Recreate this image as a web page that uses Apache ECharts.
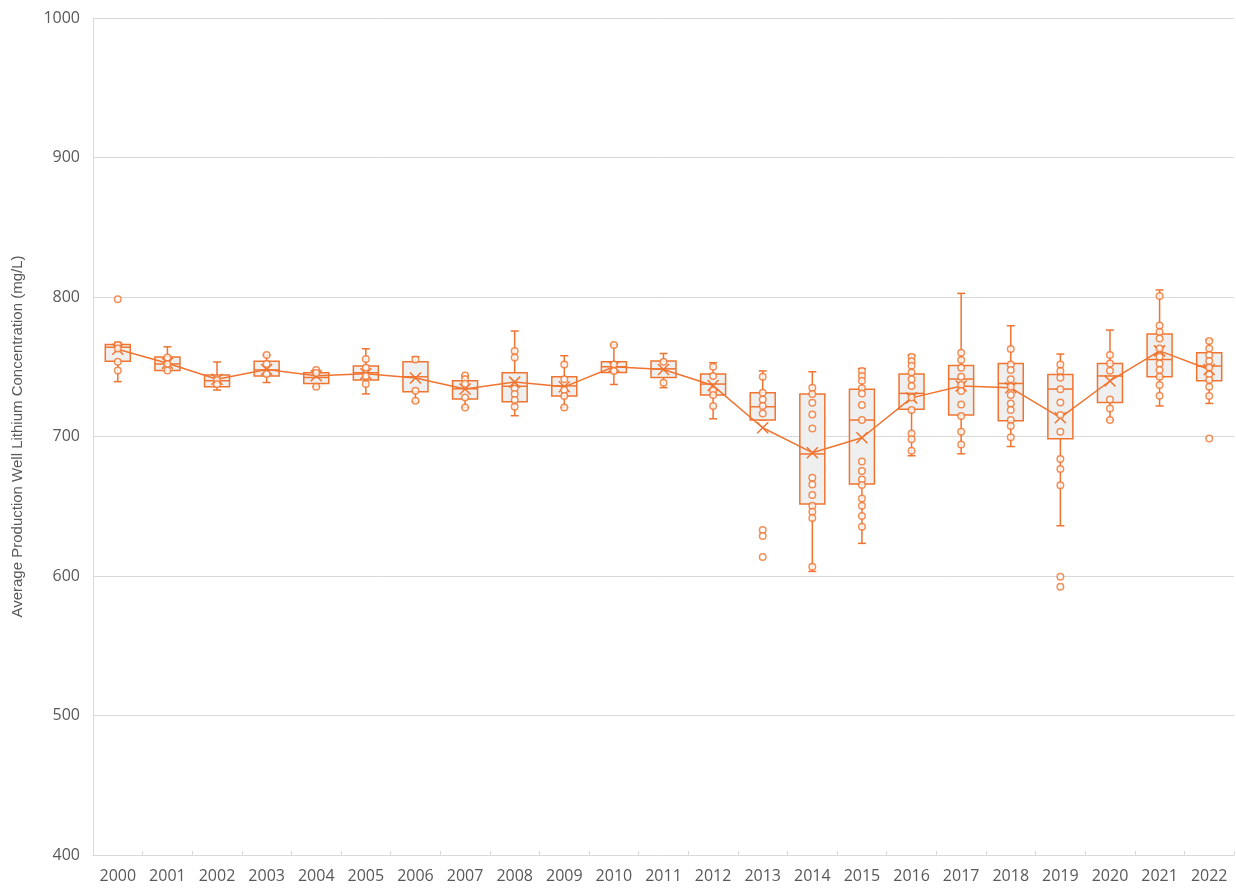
<!DOCTYPE html>
<html>
<head>
<meta charset="utf-8">
<title>Average Production Well Lithium Concentration</title>
<script src="https://cdn.jsdelivr.net/npm/echarts@6/dist/echarts.min.js"></script>
<style>
  html, body { margin: 0; padding: 0; background: #fff; }
  #chart { width: 1236px; height: 891px; }
</style>
</head>
<body>
<div id="chart"></div>
<script>
// values (mg/L)
const years = ['2000', '2001', '2002', '2003', '2004', '2005', '2006', '2007', '2008', '2009', '2010', '2011',
  '2012', '2013', '2014', '2015', '2016', '2017', '2018', '2019', '2020', '2021', '2022']
const whiskerLow = [739.3, 747.4, 733.3, 738.7, 735.7, 730.5, 725, 720.8, 714.9, 720.8, 737.3, 735,
  712.7, 711.8, 603.3, 623.4, 686.2, 687.6, 692.8, 636, 711.8, 721.9, 723.7]
const q1 = [754, 747.4, 735.7, 743.4, 738, 740.5, 732, 726.9, 724.9, 729, 745.9, 742.3,
  729.7, 711.8, 651.6, 666, 719.5, 715.4, 711.3, 698.4, 724.4, 742.8, 740]
const median = [764, 752, 740, 747.7, 742.3, 745.7, 742.8, 734.2, 736, 736.3, 750, 748.5,
  737.6, 721.3, 687.5, 711.8, 730.9, 741.2, 738, 734, 743.4, 755.2, 750.5]
const q3 = [766, 757, 744, 754, 745.7, 750.5, 753.6, 740, 745.7, 742.8, 753.6, 754.2,
  744.8, 731.3, 730.5, 733.8, 744.8, 750.9, 752.4, 744.5, 752.4, 773.5, 760]
const whiskerHigh = [767.5, 764.3, 753.4, 758.4, 747.7, 762.9, 757.2, 743.7, 775.6, 757.9, 765.6, 759.5,
  752.9, 747, 746.4, 748.7, 758.4, 802.6, 779.4, 759.1, 776.3, 805, 769.2]
const means = [762.5, 752.5, 741, 748, 743.5, 745, 742, 734, 739, 735.6, 750, 748,
  736.5, 706.3, 688.4, 699.1, 727.7, 736.2, 734.9, 713.5, 739.8, 761.4, 748]
const innerPoints = [
  [765.6, 763, 753.6, 747.4],
  [756.7, 752, 747.4],
  [740.5, 737.4],
  [758.4, 752, 744.8],
  [747.7, 745.5, 735.7],
  [755.6, 749.5, 743.4, 737.6],
  [755.2, 732.8, 725.6],
  [743.7, 741, 737.8, 728, 720.8],
  [761.3, 756.7, 734.4, 730.4, 726.2, 721.3],
  [751.6, 741, 733.3, 729, 720.8],
  [765.6, 751.6, 747],
  [753.6, 738.5],
  [750, 743.4, 733, 729.7, 721.8],
  [742.8, 731.3, 726.6, 721.8, 716.5],
  [734.9, 730.5, 724.2, 715.8, 705.8, 670.4, 665.6, 658, 650.3, 646, 641.5, 606.6],
  [747, 743.4, 740, 734.5, 730.9, 722.6, 711.8, 682, 675.3, 669.2, 665.2, 655.6, 650.3, 643, 635.3],
  [757.2, 754, 750.7, 745.9, 741, 736.2, 728, 719, 702.2, 698.1, 689.7],
  [760.1, 754.8, 749.3, 742.8, 736.9, 732.6, 723, 714.7, 703.4, 694.3],
  [762.7, 751.6, 747.7, 741, 735.7, 729.7, 723.7, 719, 711.8, 707.5, 699.4],
  [751.6, 747, 742.1, 733.8, 724.4, 715.4, 703.4, 683.9, 676.7, 665],
  [758.4, 752.4, 747.1, 726.6, 720.1, 711.8],
  [800.7, 779.6, 775, 770.3, 763.1, 757.2, 752.4, 747.7, 742.8, 736.9, 729.2],
  [768.5, 763.1, 758.4, 754.1, 749.5, 744.5, 740.5, 735.7, 729]
]
const outliers = [
  [798.4], [], [], [], [], [], [], [], [], [], [], [],
  [], [633, 628.7, 613.6], [], [], [], [], [], [599.4, 592.3], [], [], [698.6]
]
const yTicks = [400, 500, 600, 700, 800, 900, 1000]

const orange = '#F0742F'
const grey = '#595959'

const boxData = years.map((y, i) => [i, whiskerLow[i], q1[i], median[i], q3[i], whiskerHigh[i]])
const pointData = []
years.forEach((y, i) => {
  innerPoints[i].forEach((v) => pointData.push([i, v]))
  outliers[i].forEach((v) => pointData.push([i, v]))
})

const myChart = echarts.init(document.getElementById('chart'))

// box + whiskers drawn by hand so the caps can stay short
function renderBox(params, api) {
  const idx = api.value(0)
  const pLow = api.coord([idx, api.value(1)])
  const pQ1 = api.coord([idx, api.value(2)])
  const pMed = api.coord([idx, api.value(3)])
  const pQ3 = api.coord([idx, api.value(4)])
  const pHigh = api.coord([idx, api.value(5)])
  const x = pMed[0]
  const half = 12.5
  const cap = 4
  const lineStyle = { stroke: orange, lineWidth: 1.5, fill: null }
  return {
    type: 'group',
    children: [
      { type: 'line', shape: { x1: x, y1: pQ3[1], x2: x, y2: pHigh[1] }, style: lineStyle },
      { type: 'line', shape: { x1: x, y1: pQ1[1], x2: x, y2: pLow[1] }, style: lineStyle },
      { type: 'line', shape: { x1: x - cap, y1: pHigh[1], x2: x + cap, y2: pHigh[1] }, style: lineStyle },
      { type: 'line', shape: { x1: x - cap, y1: pLow[1], x2: x + cap, y2: pLow[1] }, style: lineStyle },
      {
        type: 'rect',
        shape: { x: x - half, y: pQ3[1], width: half * 2, height: pQ1[1] - pQ3[1] },
        style: { fill: '#efefef', stroke: orange, lineWidth: 1.5 }
      },
      { type: 'line', shape: { x1: x - half, y1: pMed[1], x2: x + half, y2: pMed[1] }, style: lineStyle }
    ]
  }
}

myChart.setOption({
  animation: false,
  backgroundColor: '#fff',
  grid: { left: 93, right: 2, top: 18, bottom: 36 },
  xAxis: {
    type: 'category',
    data: years,
    boundaryGap: true,
    axisLine: { lineStyle: { color: '#d9d9d9', width: 1 } },
    axisTick: { show: true, inside: true, length: 4, interval: 0, lineStyle: { color: '#d9d9d9' } },
    axisLabel: { color: grey, fontSize: 16, fontFamily: 'Open Sans', margin: 13, interval: 0 },
    splitLine: { show: false }
  },
  yAxis: {
    type: 'value',
    min: yTicks[0],
    max: yTicks[yTicks.length - 1],
    interval: 100,
    name: 'Average Production Well Lithium Concentration (mg/L)',
    nameLocation: 'middle',
    nameGap: 68,
    nameTextStyle: { color: grey, fontSize: 15, fontFamily: 'Liberation Sans Narrow, Liberation Sans, sans-serif' },
    axisLine: { show: true, lineStyle: { color: '#d9d9d9', width: 1 } },
    axisTick: { show: false },
    axisLabel: {
      color: grey,
      fontSize: 16,
      fontFamily: 'Open Sans',
      margin: 13,
      formatter: (v) => String(v)
    },
    splitLine: { lineStyle: { color: '#d9d9d9', width: 1 } }
  },
  series: [
    {
      name: 'box',
      type: 'custom',
      renderItem: renderBox,
      data: boxData,
      encode: { x: 0, y: [1, 2, 3, 4, 5] },
      z: 2
    },
    {
      name: 'mean',
      type: 'line',
      data: means,
      symbol: 'path://M0,0L10,10M10,0L0,10',
      symbolSize: 11,
      lineStyle: { color: orange, width: 1.5 },
      itemStyle: { color: orange, borderColor: orange, borderWidth: 1.5 },
      z: 3
    },
    {
      name: 'points',
      type: 'scatter',
      data: pointData,
      symbol: 'circle',
      symbolSize: 6.5,
      itemStyle: { color: '#fff', borderColor: orange, borderWidth: 1.5 },
      z: 4
    }
  ]
})
</script>
</body>
</html>
